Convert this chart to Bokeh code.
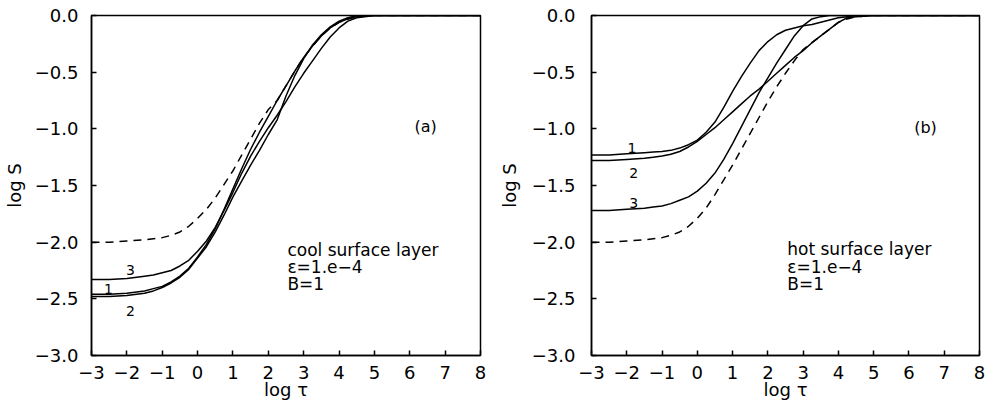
from bokeh.plotting import figure
from bokeh.layouts import row
from bokeh.models import Range1d, FixedTicker
from bokeh.core.properties import value
from bokeh.embed import file_html
from bokeh.resources import INLINE

# ---------------- data ----------------
log_tau = [-3, -2.5, -2, -1.5, -1.25, -1, -0.75, -0.5, -0.25, 0, 0.25, 0.5, 0.75, 1,
           1.25, 1.5, 1.75, 2, 2.25, 2.5, 2.75, 3, 3.25, 3.5, 3.75, 4, 4.25, 4.5,
           5, 6, 7, 8]

# panel (a): cool surface layer
a_dashed = [-2.00, -2.00, -1.99, -1.98, -1.97, -1.96, -1.94, -1.91, -1.86, -1.79, -1.71, -1.61,
            -1.49, -1.37, -1.23, -1.09, -0.95, -0.83, -0.75, -0.62, -0.49, -0.37, -0.27, -0.18,
            -0.11, -0.06, -0.03, -0.01, 0, 0, 0, 0]
a_curve1 = [-2.46, -2.46, -2.45, -2.43, -2.41, -2.39, -2.35, -2.30, -2.23, -2.13, -2.02, -1.88,
            -1.71, -1.53, -1.35, -1.18, -1.03, -0.89, -0.75, -0.62, -0.49, -0.37, -0.27, -0.18,
            -0.11, -0.06, -0.03, -0.01, 0, 0, 0, 0]
a_curve2 = [-2.48, -2.48, -2.47, -2.45, -2.43, -2.40, -2.36, -2.31, -2.24, -2.14, -2.04, -1.91,
            -1.76, -1.60, -1.46, -1.32, -1.19, -1.05, -0.92, -0.71, -0.53, -0.38, -0.26, -0.17,
            -0.10, -0.05, -0.02, 0.00, 0, 0, 0, 0]
a_curve3 = [-2.33, -2.33, -2.32, -2.30, -2.29, -2.27, -2.25, -2.21, -2.16, -2.08, -1.99, -1.87,
            -1.72, -1.56, -1.39, -1.24, -1.11, -0.99, -0.88, -0.76, -0.63, -0.51, -0.40, -0.29,
            -0.19, -0.11, -0.05, -0.02, 0, 0, 0, 0]

# panel (b): hot surface layer
b_dashed = [-2.00, -2.00, -1.99, -1.98, -1.97, -1.96, -1.94, -1.91, -1.86, -1.79, -1.70, -1.58,
            -1.45, -1.32, -1.18, -1.04, -0.90, -0.76, -0.63, -0.51, -0.40, -0.30, -0.24, -0.18,
            -0.12, -0.06, -0.03, -0.01, 0, 0, 0, 0]
b_curve1 = [-1.23, -1.23, -1.22, -1.21, -1.205, -1.20, -1.19, -1.17, -1.14, -1.10, -1.03, -0.94,
            -0.81, -0.67, -0.54, -0.42, -0.31, -0.23, -0.17, -0.13, -0.11, -0.09, -0.08, -0.06,
            -0.04, -0.02, -0.01, 0.00, 0, 0, 0, 0]
b_curve2 = [-1.28, -1.28, -1.27, -1.26, -1.25, -1.24, -1.225, -1.20, -1.16, -1.11, -1.05, -0.99,
            -0.92, -0.85, -0.78, -0.71, -0.65, -0.58, -0.51, -0.44, -0.37, -0.31, -0.24, -0.18,
            -0.12, -0.06, -0.02, -0.01, 0, 0, 0, 0]
b_curve3 = [-1.72, -1.72, -1.71, -1.70, -1.69, -1.68, -1.66, -1.63, -1.60, -1.55, -1.48, -1.39,
            -1.27, -1.13, -0.98, -0.83, -0.68, -0.55, -0.42, -0.30, -0.18, -0.09, -0.03, -0.01,
            0.00, 0.00, 0.00, 0.00, 0, 0, 0, 0]

x_ticks = [-3, -2, -1, 0, 1, 2, 3, 4, 5, 6, 7, 8]
x_tick_labels = ["\u22123", "\u22122", "\u22121", "0", "1", "2", "3", "4", "5", "6", "7", "8"]
y_ticks = [0.0, -0.5, -1.0, -1.5, -2.0, -2.5, -3.0]
y_tick_labels = ["0.0", "\u22120.5", "\u22121.0", "\u22121.5", "\u22122.0", "\u22122.5", "\u22123.0"]

curve_labels = ["1", "2", "3"]
FONT = "DejaVu Sans"


def make_panel(width, border_left, border_right, border_top, border_bottom, y_std, y_lab_std,
               dashed, c1, c2, c3, tag, desc, lab_pos, tag_pos, desc_pos):
    p = figure(width=width, height=402,
               x_range=Range1d(-3, 8), y_range=Range1d(-3, 0),
               output_backend="svg", toolbar_location=None,
               min_border_left=border_left, min_border_right=border_right,
               min_border_top=border_top, min_border_bottom=border_bottom)
    p.background_fill_color = "white"
    p.border_fill_color = "white"
    p.outline_line_color = "black"
    p.outline_line_width = 1.5
    p.outline_line_alpha = 1.0
    p.grid.visible = False

    for ax in (p.xaxis[0], p.yaxis[0]):
        ax.axis_line_color = "black"
        ax.axis_line_width = 1.5
        ax.major_tick_line_color = "black"
        ax.major_tick_line_width = 1.5
        ax.major_tick_in = 5
        ax.major_tick_out = 0
        ax.minor_tick_line_color = None
        ax.major_label_text_font = FONT
        ax.major_label_text_font_size = "18px"
        ax.major_label_text_color = "black"
        ax.axis_label_text_font = FONT
        ax.axis_label_text_font_size = "18px"
        ax.axis_label_text_font_style = "normal"
        ax.axis_label_text_color = "black"

    p.xaxis.ticker = FixedTicker(ticks=x_ticks)
    p.xaxis.major_label_overrides = dict(zip(x_ticks, x_tick_labels))
    p.yaxis.ticker = FixedTicker(ticks=y_ticks)
    p.yaxis.major_label_overrides = dict(zip(y_ticks, y_tick_labels))
    p.xaxis.axis_label = "log \u03c4"
    p.yaxis.axis_label = "log S"
    p.xaxis.major_label_standoff = 10
    p.xaxis.axis_label_standoff = -3
    p.yaxis.major_label_standoff = y_std
    p.yaxis.axis_label_standoff = y_lab_std

    p.line(log_tau, dashed, line_color="black", line_width=1.5, line_dash="8 6")
    for c in (c1, c2, c3):
        p.line(log_tau, c, line_color="black", line_width=1.5)

    xs = [pos[0] for pos in lab_pos]
    ys = [pos[1] for pos in lab_pos]
    p.text(xs, ys, text=curve_labels, text_font=value(FONT), text_font_size="14px",
           text_align="center", text_baseline="middle", text_color="black")
    p.text([tag_pos[0]], [tag_pos[1]], text=[tag], text_font=value(FONT),
           text_font_size="16px", text_align="center", text_baseline="middle",
           text_color="black")
    dx, dy0, ddy = desc_pos
    p.text([dx] * len(desc), [dy0 - i * ddy for i in range(len(desc))], text=desc,
           text_font=value(FONT), text_font_size="17px", text_align="left",
           text_baseline="middle", text_color="black")
    return p


pa = make_panel(495, 91, 15, 15, 45, 13, 7,
                a_dashed, a_curve1, a_curve2, a_curve3, "(a)",
                ["cool surface layer", "\u03b5=1.e\u22124", "B=1"],
                [(-2.52, -2.41), (-1.90, -2.61), (-1.90, -2.245)],
                (6.45, -0.98), (2.54, -2.07, 0.15))
pb = make_panel(497, 96, 13, 14, 47, 16, 9,
                b_dashed, b_curve1, b_curve2, b_curve3, "(b)",
                ["hot surface layer", "\u03b5=1.e\u22124", "B=1"],
                [(-1.85, -1.167), (-1.80, -1.387), (-1.80, -1.65)],
                (6.47, -0.99), (2.55, -2.06, 0.155))

layout = row(pa, pb)
open("out.html", "w").write(file_html(layout, INLINE))
